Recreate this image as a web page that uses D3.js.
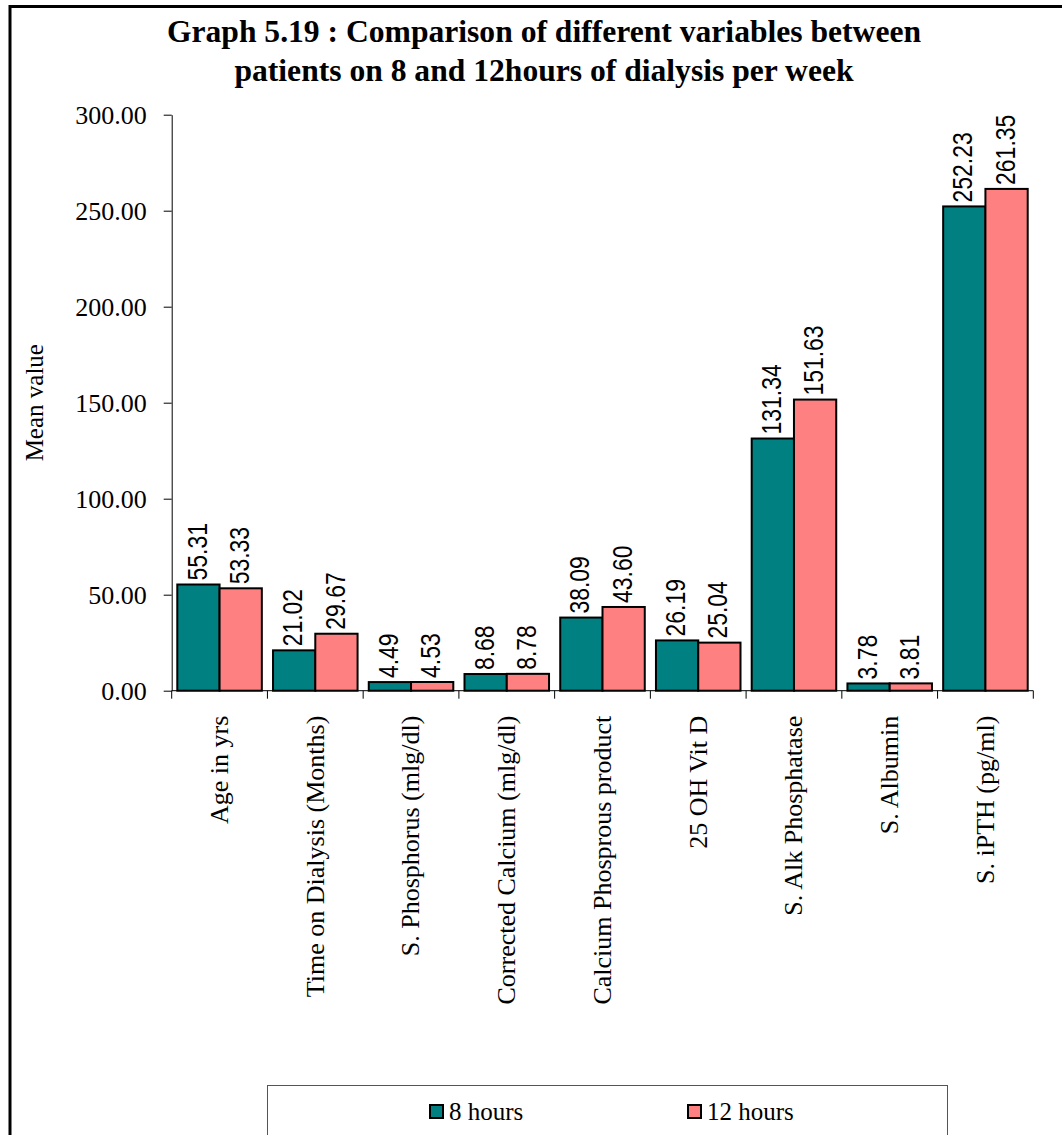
<!DOCTYPE html>
<html>
<head>
<meta charset="utf-8">
<script src="https://cdn.jsdelivr.net/npm/d3@7"></script>
<style>
  html, body { margin: 0; padding: 0; background: #fff; }
  svg { display: block; }
  text { font-family: "Liberation Serif", "Times New Roman", Times, serif; fill: #000; }
  text.value { font-family: "Liberation Sans", Arial, sans-serif; }
</style>
</head>
<body>
<svg id="chart" width="1062" height="1135"></svg>
<script>
// Mean values per variable for the two dialysis schedules
const categories = [
  "Age in yrs",
  "Time on Dialysis (Months)",
  "S. Phosphorus (mlg/dl)",
  "Corrected Calcium (mlg/dl)",
  "Calcium Phosprous product",
  "25 OH Vit D",
  "S. Alk Phosphatase",
  "S. Albumin",
  "S. iPTH (pg/ml)"
];
const seriesNames = ["8 hours", "12 hours"];
const hours8 = [55.31, 21.02, 4.49, 8.68, 38.09, 26.19, 131.34, 3.78, 252.23];
const hours12 = [53.33, 29.67, 4.53, 8.78, 43.60, 25.04, 151.63, 3.81, 261.35];
const yTicks = [0, 50, 100, 150, 200, 250, 300];
const titleLines = [
  "Graph 5.19 : Comparison of different variables between",
  "patients on 8 and 12hours of dialysis per week"
];
const yTitle = "Mean value";

const colors = { "8 hours": "#008080", "12 hours": "#FF8080" };

const svg = d3.select("#chart");

// outer frame
svg.append("rect")
  .attr("x", 10).attr("y", 6.5)
  .attr("width", 1200).attr("height", 1300)
  .attr("fill", "none").attr("stroke", "#000").attr("stroke-width", 3);

// title
svg.append("g").selectAll("text")
  .data(titleLines)
  .join("text")
  .attr("x", 544)
  .attr("y", (d, i) => 41.5 + i * 39.5)
  .attr("text-anchor", "middle")
  .attr("font-size", "31.6px")
  .attr("font-weight", "bold")
  .text(d => d);

const plot = { left: 171.7, right: 1033.3, top: 114.7, bottom: 690.7 };

const y = d3.scaleLinear().domain([0, 300]).range([plot.bottom, plot.top]);

const x0 = d3.scaleBand()
  .domain(categories)
  .range([plot.left, plot.right])
  .paddingInner(0.117)
  .paddingOuter(0.0585);

const x1 = d3.scaleBand()
  .domain(seriesNames)
  .range([0, x0.bandwidth()]);

const rows = categories.map((c, i) => ({
  cat: c,
  values: [
    { key: "8 hours", value: hours8[i] },
    { key: "12 hours", value: hours12[i] }
  ]
}));

// y axis
const yAxis = d3.axisLeft(y)
  .tickValues(yTicks)
  .tickFormat(d3.format(".2f"))
  .tickSize(8)
  .tickSizeOuter(0)
  .tickPadding(17);

const gy = svg.append("g")
  .attr("transform", `translate(${plot.left},0)`)
  .call(yAxis);
gy.selectAll("text").attr("font-size", "26px").attr("font-family", "Liberation Serif, Times New Roman, serif");
gy.selectAll("line, path").attr("stroke", "#000").attr("stroke-width", 1);

// y title
svg.append("text")
  .attr("transform", `translate(43,${(plot.top + plot.bottom) / 2}) rotate(-90)`)
  .attr("text-anchor", "middle")
  .attr("font-size", "25px")
  .text(yTitle);

// bars
const groups = svg.append("g").selectAll("g")
  .data(rows)
  .join("g")
  .attr("transform", d => `translate(${x0(d.cat)},0)`);

groups.selectAll("rect")
  .data(d => d.values)
  .join("rect")
  .attr("x", d => x1(d.key))
  .attr("y", d => y(d.value))
  .attr("width", x1.bandwidth())
  .attr("height", d => y(0) - y(d.value))
  .attr("fill", d => colors[d.key])
  .attr("stroke", "#000")
  .attr("stroke-width", 2);

// value labels: narrow sans, rotated to read upward
groups.selectAll("text")
  .data(d => d.values)
  .join("text")
  .attr("class", "value")
  .attr("transform", d => `translate(${x1(d.key) + x1.bandwidth() / 2 - 2},${y(d.value) - 4}) rotate(-90) scale(0.82,1)`)
  .attr("dy", "0.36em")
  .attr("text-anchor", "start")
  .attr("font-size", "28px")
  .text(d => d.value.toFixed(2));

// x axis line and category boundary ticks
const step = x0.step();
const boundaries = d3.range(categories.length + 1).map(i => plot.left + i * step);
svg.append("line")
  .attr("x1", plot.left).attr("x2", plot.right)
  .attr("y1", plot.bottom).attr("y2", plot.bottom)
  .attr("stroke", "#000").attr("stroke-width", 1);
svg.append("g").selectAll("line")
  .data(boundaries)
  .join("line")
  .attr("x1", d => d).attr("x2", d => d)
  .attr("y1", plot.bottom).attr("y2", plot.bottom + 8)
  .attr("stroke", "#000").attr("stroke-width", 1);

// category labels
svg.append("g").selectAll("text")
  .data(categories)
  .join("text")
  .attr("transform", d => `translate(${x0(d) + x0.bandwidth() / 2},${plot.bottom + 25}) rotate(-90)`)
  .attr("dy", "0.32em")
  .attr("text-anchor", "end")
  .attr("font-size", "26px")
  .text(d => d);

// legend
const legend = svg.append("g");
legend.append("rect")
  .attr("x", 267.5).attr("y", 1085.5)
  .attr("width", 680).attr("height", 100)
  .attr("fill", "#fff").attr("stroke", "#555").attr("stroke-width", 1);

const legendX = d3.scalePoint().domain(seriesNames).range([430, 688]);
const items = legend.selectAll("g.item")
  .data(seriesNames)
  .join("g")
  .attr("class", "item")
  .attr("transform", d => `translate(${legendX(d)},1105)`);
items.append("rect")
  .attr("x", 0).attr("y", 0)
  .attr("width", 13).attr("height", 13)
  .attr("fill", d => colors[d])
  .attr("stroke", "#000").attr("stroke-width", 2);
items.append("text")
  .attr("x", 19).attr("y", 15)
  .attr("font-size", "25px")
  .text(d => d);
</script>
</body>
</html>
